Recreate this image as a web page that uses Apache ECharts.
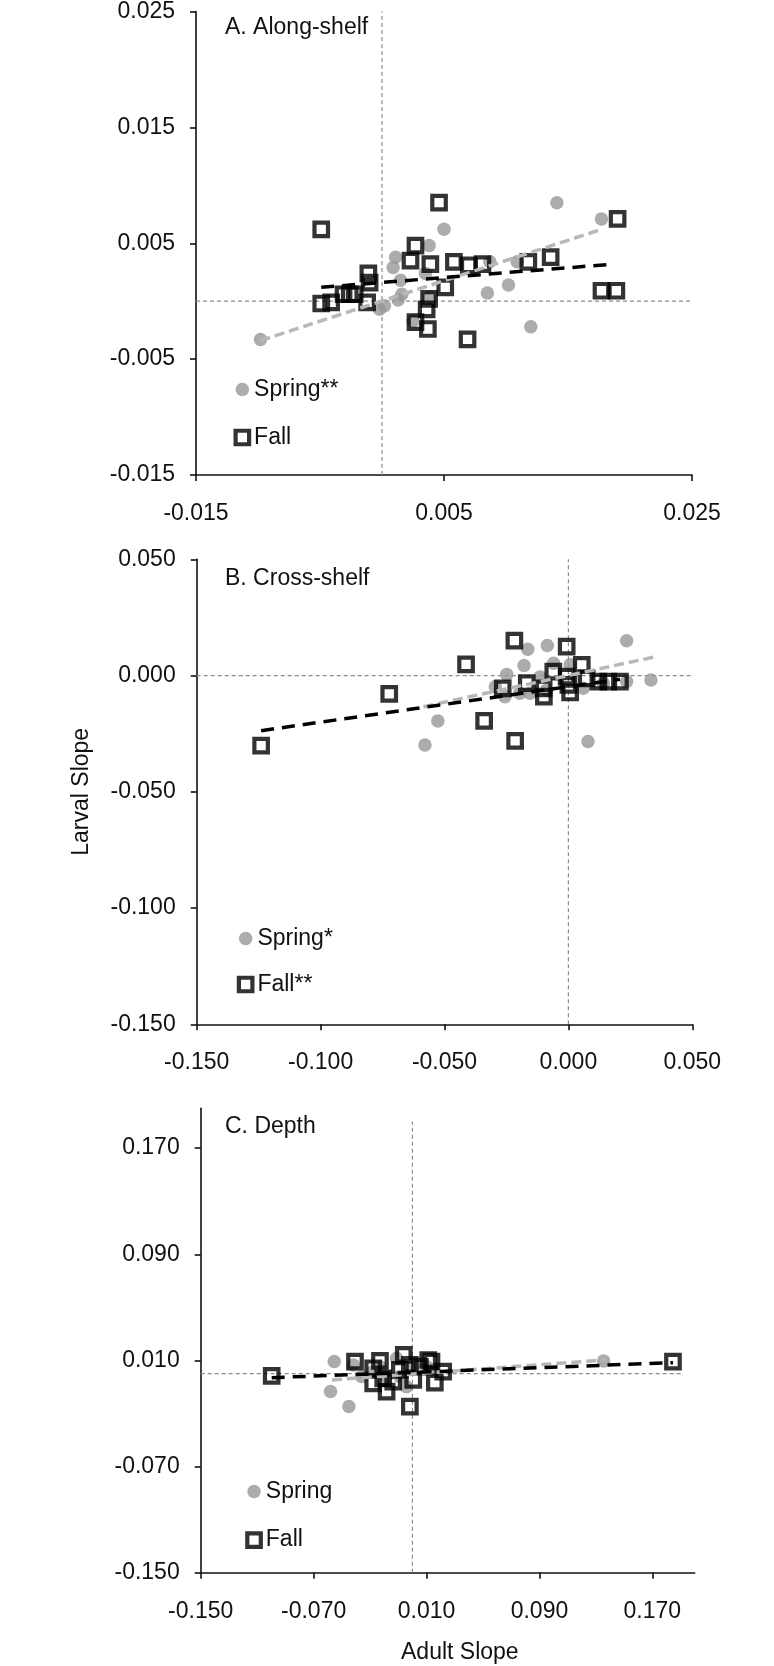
<!DOCTYPE html>
<html>
<head>
<meta charset="utf-8">
<script src="https://cdn.jsdelivr.net/npm/echarts@6/dist/echarts.min.js"></script>
<style>
html,body{margin:0;padding:0;background:#fff;}
#chart{width:774px;height:1666px;}
</style>
</head>
<body>
<div id="chart"></div>
<script>
// ---------- Panel A: Along-shelf ----------
const aSpringX = [-0.0098, 0.0141, 0.0177, 0.0050, 0.0038, 0.0011, 0.0009, 0.0015, 0.0016, 0.0013, -0.0002, 0.0035, 0.0085, 0.0102, 0.0120, 0.0087, 0.0109, 0.0025, 0.0038, 0.0002];
const aSpringY = [-0.0033, 0.0085, 0.0071, 0.0062, 0.0048, 0.0038, 0.0029, 0.0018, 0.0006, 0.0001, -0.0007, 0.0024, 0.0007, 0.0014, -0.0022, 0.0034, 0.0034, -0.0017, 0.0003, -0.0004];
const aFallX = [-0.0049, 0.0046, 0.0190, 0.0027, 0.0023, 0.0039, 0.0058, 0.0070, 0.0081, 0.0118, 0.0136, 0.0177, 0.0189, 0.0069, 0.0037, 0.0027, 0.0036, 0.0038, 0.0051, -0.0011, -0.0010, -0.0012, -0.0049, -0.0041, -0.0031, -0.0026, -0.0022];
const aFallY = [0.0062, 0.0085, 0.0071, 0.0048, 0.0035, 0.0032, 0.0034, 0.0031, 0.0032, 0.0034, 0.0038, 0.0009, 0.0009, -0.0033, -0.0024, -0.0018, -0.0007, 0.0002, 0.0012, 0.0024, 0.0016, -0.0001, -0.0002, -0.0001, 0.0006, 0.0006, 0.0006];
const aSpringTrendX = [-0.0098, 0.0177];
const aSpringTrendY = [-0.0034, 0.0062];
const aFallTrendX = [-0.0049, 0.0187];
const aFallTrendY = [0.0012, 0.0032];
const aTicksX = [-0.015, 0.005, 0.025];
const aTicksY = [-0.015, -0.005, 0.005, 0.015, 0.025];
const aRange = [-0.015, 0.025];

// ---------- Panel B: Cross-shelf ----------
const bSpringX = [0.0235, 0.0333, 0.0079, -0.0579, -0.0527, -0.0164, -0.0085, -0.0179, -0.0249, -0.0295, -0.0256, -0.0196, -0.0114, -0.0060, 0.0007, 0.0060, 0.0235, 0.0141, -0.0088, -0.0155];
const bSpringY = [0.0150, -0.0019, -0.0284, -0.0299, -0.0195, 0.0113, 0.0129, 0.0043, 0.0005, -0.0048, -0.0091, -0.0076, -0.0006, 0.0053, 0.0046, -0.0055, -0.0026, -0.0033, -0.0062, -0.0076];
const bFallX = [-0.1240, -0.0723, -0.0413, -0.0340, -0.0215, -0.0218, -0.0007, -0.0265, -0.0168, -0.0100, -0.0099, -0.0061, 0.0000, 0.0007, 0.0054, 0.0074, 0.0121, 0.0161, 0.0208, -0.0007];
const bFallY = [-0.0301, -0.0079, 0.0048, -0.0195, -0.0281, 0.0150, 0.0124, -0.0055, -0.0033, -0.0055, -0.0091, 0.0017, -0.0040, -0.0073, 0.0046, -0.0012, -0.0026, -0.0026, -0.0026, -0.0005];
const bSpringTrendX = [-0.0585, 0.0343];
const bSpringTrendY = [-0.0134, 0.0079];
const bFallTrendX = [-0.1240, 0.0208];
const bFallTrendY = [-0.0237, -0.0016];
const bTicks = [-0.15, -0.10, -0.05, 0.00, 0.05];
const bRange = [-0.15, 0.05];

// ---------- Panel C: Depth ----------
const cSpringX = [-0.0554, -0.0580, -0.0450, -0.0419, -0.0360, 0.1355, -0.0042, -0.0112, -0.0230, -0.0183, 0.0006, 0.0100, 0.0147, -0.0278, -0.0089];
const cSpringY = [0.0091, -0.0135, -0.0248, 0.0066, -0.0022, 0.0096, -0.0098, 0.0116, 0.0053, -0.0022, 0.0053, 0.0053, 0.0028, 0.0015, -0.0022];
const cFallX = [-0.0997, 0.1846, -0.0407, -0.0230, -0.0278, -0.0278, -0.0183, -0.0207, -0.0061, -0.0018, -0.0018, 0.0006, 0.0112, 0.0135, 0.0159, 0.0218, 0.0053, -0.0089, -0.0136];
const cFallY = [-0.0017, 0.0091, 0.0091, 0.0096, 0.0041, -0.0073, -0.0135, -0.0035, 0.0141, 0.0066, -0.0248, -0.0047, 0.0103, 0.0091, -0.0068, 0.0015, 0.0053, 0.0028, -0.0060];
const cSpringTrendX = [-0.0570, 0.1360];
const cSpringTrendY = [-0.0047, 0.0103];
const cFallTrendX = [-0.0997, 0.1846];
const cFallTrendY = [-0.0030, 0.0083];
const cTicks = [-0.15, -0.07, 0.01, 0.09, 0.17];
const cRange = [-0.15, 0.20];
const cRefEnd = 0.19;

const panelTitles = ['A. Along-shelf', 'B. Cross-shelf', 'C. Depth'];
const legendNames = [['Spring**', 'Fall'], ['Spring*', 'Fall**'], ['Spring', 'Fall']];
const yAxisTitle = 'Larval Slope';
const xAxisTitle = 'Adult Slope';

// ---------- helpers ----------
const FONT = "'Liberation Sans', Arial, sans-serif";
const pairs = (xs, ys) => xs.map((x, i) => [x, ys[i]]);
const fmt = v => Number(v).toFixed(3);

const grids = [
  {left: 196, top: 10.7, width: 496, height: 464.3},
  {left: 196.7, top: 559.3, width: 495.6, height: 465},
  {left: 200.7, top: 1108.3, width: 494, height: 464.4}
];

function axis(range, ticks, idx, isX, extra) {
  const base = {
    type: 'value', gridIndex: idx, min: range[0], max: range[1],
    axisLine: {show: true, onZero: false, lineStyle: {color: '#111', width: 1.6}},
    axisTick: {show: true, inside: false, length: 6, customValues: ticks, lineStyle: {color: '#111', width: 1.6}},
    axisLabel: {show: true, customValues: ticks, formatter: fmt, color: '#111', fontSize: 23, fontFamily: FONT, margin: isX ? 27 : 21},
    splitLine: {show: false}
  };
  return Object.assign(base, extra || {});
}

const xAxes = [
  axis(aRange, aTicksX, 0, true),
  axis(bRange, bTicks, 1, true),
  axis(cRange, cTicks, 2, true)
];
const yAxes = [
  axis(aRange, aTicksY, 0, false),
  axis(bRange, bTicks, 1, false, {name: yAxisTitle, nameLocation: 'middle', nameRotate: 90, nameGap: 104,
    nameTextStyle: {fontSize: 23, fontFamily: FONT, color: '#111'}}),
  axis(cRange, cTicks, 2, false)
];

const springStyle = {color: '#979797'};
const fallStyle = {color: 'rgba(0,0,0,0)', borderColor: '#000', borderWidth: 4.2};

const series = [];
const panels = [
  {sx: aSpringX, sy: aSpringY, fx: aFallX, fy: aFallY, stx: aSpringTrendX, sty: aSpringTrendY, ftx: aFallTrendX, fty: aFallTrendY,
   vRef: [[0, aRange[0]], [0, aRange[1]]], hRef: [[aRange[0], 0], [aRange[1], 0]]},
  {sx: bSpringX, sy: bSpringY, fx: bFallX, fy: bFallY, stx: bSpringTrendX, sty: bSpringTrendY, ftx: bFallTrendX, fty: bFallTrendY,
   vRef: [[0, bRange[0]], [0, bRange[1]]], hRef: [[bRange[0], 0], [bRange[1], 0]]},
  {sx: cSpringX, sy: cSpringY, fx: cFallX, fy: cFallY, stx: cSpringTrendX, sty: cSpringTrendY, ftx: cFallTrendX, fty: cFallTrendY,
   vRef: [[0, cRange[0]], [0, cRefEnd]], hRef: [[cRange[0], 0], [cRefEnd, 0]]}
];

panels.forEach((p, i) => {
  const common = {xAxisIndex: i, yAxisIndex: i, silent: true};
  series.push(Object.assign({type: 'line', name: 'refV' + i, data: p.vRef, symbol: 'none',
    lineStyle: {color: '#8c8c8c', width: 1.2, type: [4, 3]}, z: 1}, common));
  series.push(Object.assign({type: 'line', name: 'refH' + i, data: p.hRef, symbol: 'none',
    lineStyle: {color: '#8c8c8c', width: 1.2, type: [4, 3]}, z: 1}, common));
  series.push(Object.assign({type: 'scatter', name: legendNames[i][0], data: pairs(p.sx, p.sy),
    symbol: 'circle', symbolSize: 13.5, itemStyle: springStyle, z: 2}, common));
  series.push(Object.assign({type: 'scatter', name: legendNames[i][1], data: pairs(p.fx, p.fy),
    symbol: 'rect', symbolSize: 13.5, itemStyle: fallStyle, z: 3}, common));
  series.push(Object.assign({type: 'line', name: 'trendS' + i, data: pairs(p.stx, p.sty), symbol: 'none',
    lineStyle: {color: '#b8b8b8', width: 3.5, type: [10, 5]}, z: 4}, common));
  series.push(Object.assign({type: 'line', name: 'trendF' + i, data: pairs(p.ftx, p.fty), symbol: 'none',
    lineStyle: {color: '#000', width: 3.5, type: [13, 8]}, z: 5}, common));
});

const legendPos = [
  {left: 233.5, top: 378, gap: 25},
  {left: 236.8, top: 927, gap: 23},
  {left: 245.2, top: 1480, gap: 25.6}
];
const legends = legendNames.map((names, i) => ({
  orient: 'vertical', left: legendPos[i].left, top: legendPos[i].top, itemGap: legendPos[i].gap,
  padding: 0, itemWidth: 13.5, itemHeight: 13.5, selectedMode: false,
  textStyle: {fontSize: 23, fontFamily: FONT, color: '#111'},
  data: [
    {name: names[0], icon: 'circle', itemStyle: {color: '#979797', borderWidth: 0}},
    {name: names[1], icon: 'rect', itemStyle: {color: 'rgba(0,0,0,0)', borderColor: '#000', borderWidth: 4.2}}
  ]
}));

const titleTops = [16, 567, 1115];
const titles = panelTitles.map((t, i) => ({
  text: t, left: 225, top: titleTops[i], padding: 0,
  textStyle: {fontSize: 23, fontWeight: 'normal', fontFamily: FONT, color: '#111'}
}));
titles.push({text: xAxisTitle, left: 401, top: 1641, padding: 0,
  textStyle: {fontSize: 23, fontWeight: 'normal', fontFamily: FONT, color: '#111'}});

const chart = echarts.init(document.getElementById('chart'), null, {renderer: 'canvas'});
chart.setOption({
  animation: false,
  backgroundColor: '#fff',
  title: titles,
  legend: legends,
  grid: grids,
  xAxis: xAxes,
  yAxis: yAxes,
  series: series
});
</script>
</body>
</html>
